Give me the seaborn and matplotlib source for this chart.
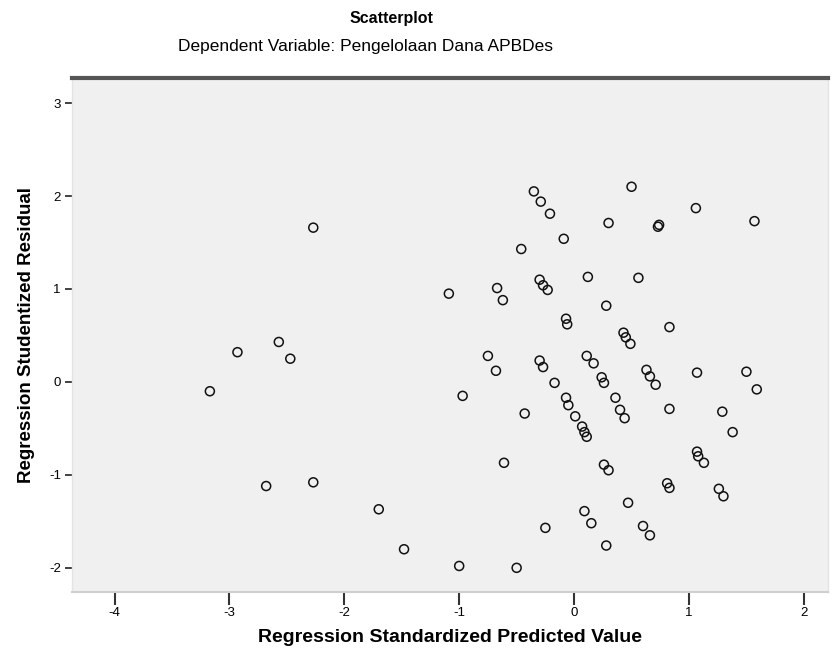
import numpy as np
import pandas as pd
import seaborn as sns
import matplotlib
matplotlib.use("Agg")
import matplotlib.pyplot as plt

# Data (standardized predicted value, studentized residual)
pred = [-3.17, -2.93, -2.57, -2.47, -2.27, -2.68, -2.27, -1.70, -1.48, -1.00,
        -0.97, -0.75, -0.68, -1.09, -0.67,
        -0.35, -0.29, -0.21, 0.50, 1.06, 1.57, 0.30, 0.73, 0.74, -0.09, -0.46,
        0.12, 0.56, -0.62, -0.30, -0.27, -0.23, 0.28, -0.07, -0.06, 0.83,
        0.43, 0.45, 0.49, -0.30, -0.27, 0.11, 0.17, -0.17, 0.24, 0.26,
        -0.07, 0.36, 0.63, 0.66, 0.71, 1.07, 1.50, 1.59,
        -0.05, -0.43, 0.01, 0.40, 0.44, 0.83, 1.29, 1.38, 0.07, 0.09, 0.11,
        1.07, 1.08, 1.13, -0.61, 0.26, 0.30, 0.81, 0.83, 1.26, 1.30, 0.47,
        0.09, 0.15, -0.25, 0.60, 0.66, 0.28, -0.50]
resid = [-0.10, 0.32, 0.43, 0.25, 1.66, -1.12, -1.08, -1.37, -1.80, -1.98,
         -0.15, 0.28, 0.12, 0.95, 1.01,
         2.05, 1.94, 1.81, 2.10, 1.87, 1.73, 1.71, 1.67, 1.69, 1.54, 1.43,
         1.13, 1.12, 0.88, 1.10, 1.04, 0.99, 0.82, 0.68, 0.62, 0.59,
         0.53, 0.48, 0.41, 0.23, 0.16, 0.28, 0.20, -0.01, 0.05, -0.01,
         -0.17, -0.17, 0.13, 0.06, -0.03, 0.10, 0.11, -0.08,
         -0.25, -0.34, -0.37, -0.30, -0.39, -0.29, -0.32, -0.54, -0.48, -0.54, -0.59,
         -0.75, -0.80, -0.87, -0.87, -0.89, -0.95, -1.09, -1.14, -1.15, -1.23, -1.30,
         -1.39, -1.52, -1.57, -1.55, -1.65, -1.76, -2.00]

xticks = [-4, -3, -2, -1, 0, 1, 2]
yticks = [-2, -1, 0, 1, 2, 3]

df = pd.DataFrame({"pred": pred, "resid": resid})

sns.set_style("white", {"axes.facecolor": "#f0f0f0"})
plt.rcParams["font.family"] = ["Liberation Sans", "DejaVu Sans"]
plt.rcParams["text.color"] = "black"
plt.rcParams["axes.labelcolor"] = "black"
plt.rcParams["xtick.color"] = "black"
plt.rcParams["ytick.color"] = "black"

fig = plt.figure(figsize=(8.34, 6.58), dpi=100)
ax = fig.add_axes([72/834, 1-592/658, (828-72)/834, (592-78)/658])

sns.scatterplot(data=df, x="pred", y="resid", ax=ax, marker="o", s=42,
                facecolor="none", edgecolor="#111111", linewidth=1.1)

ax.set_xlim(-4.37, 2.21)
ax.set_ylim(-2.26, 3.27)
ax.set_xticks(xticks)
ax.set_xticklabels([str(v) for v in xticks])
ax.set_yticks(yticks)
ax.set_yticklabels([str(v) for v in yticks])
ax.tick_params(axis="x", bottom=True, direction="out", length=9, width=1.5,
               color="#333333", labelsize=9.5, pad=2, labelcolor="black")
ax.tick_params(axis="y", left=True, direction="out", length=5, width=1.3,
               color="#333333", labelsize=9.5, pad=3, labelcolor="black")

for side in ["left", "right"]:
    ax.spines[side].set_color("#e4e4e4")
    ax.spines[side].set_linewidth(1.0)
ax.spines["top"].set_color("#555555")
ax.spines["top"].set_linewidth(3.0)
ax.spines["bottom"].set_color("#cfcfcf")
ax.spines["bottom"].set_linewidth(1.5)

ax.set_xlabel("Regression Standardized Predicted Value", fontsize=14,
              fontweight="bold", labelpad=7)
ax.set_ylabel("Regression Studentized Residual", fontsize=13.5,
              fontweight="bold", labelpad=10)

fig.text(391/834, 1-18/658, "Scatterplot", ha="center", va="center",
         fontsize=11.5, fontweight="bold")
fig.text(365/834, 1-47/658, "Dependent Variable: Pengelolaan Dana APBDes",
         ha="center", va="center", fontsize=12.5)

fig.savefig("out.png", dpi=100)
